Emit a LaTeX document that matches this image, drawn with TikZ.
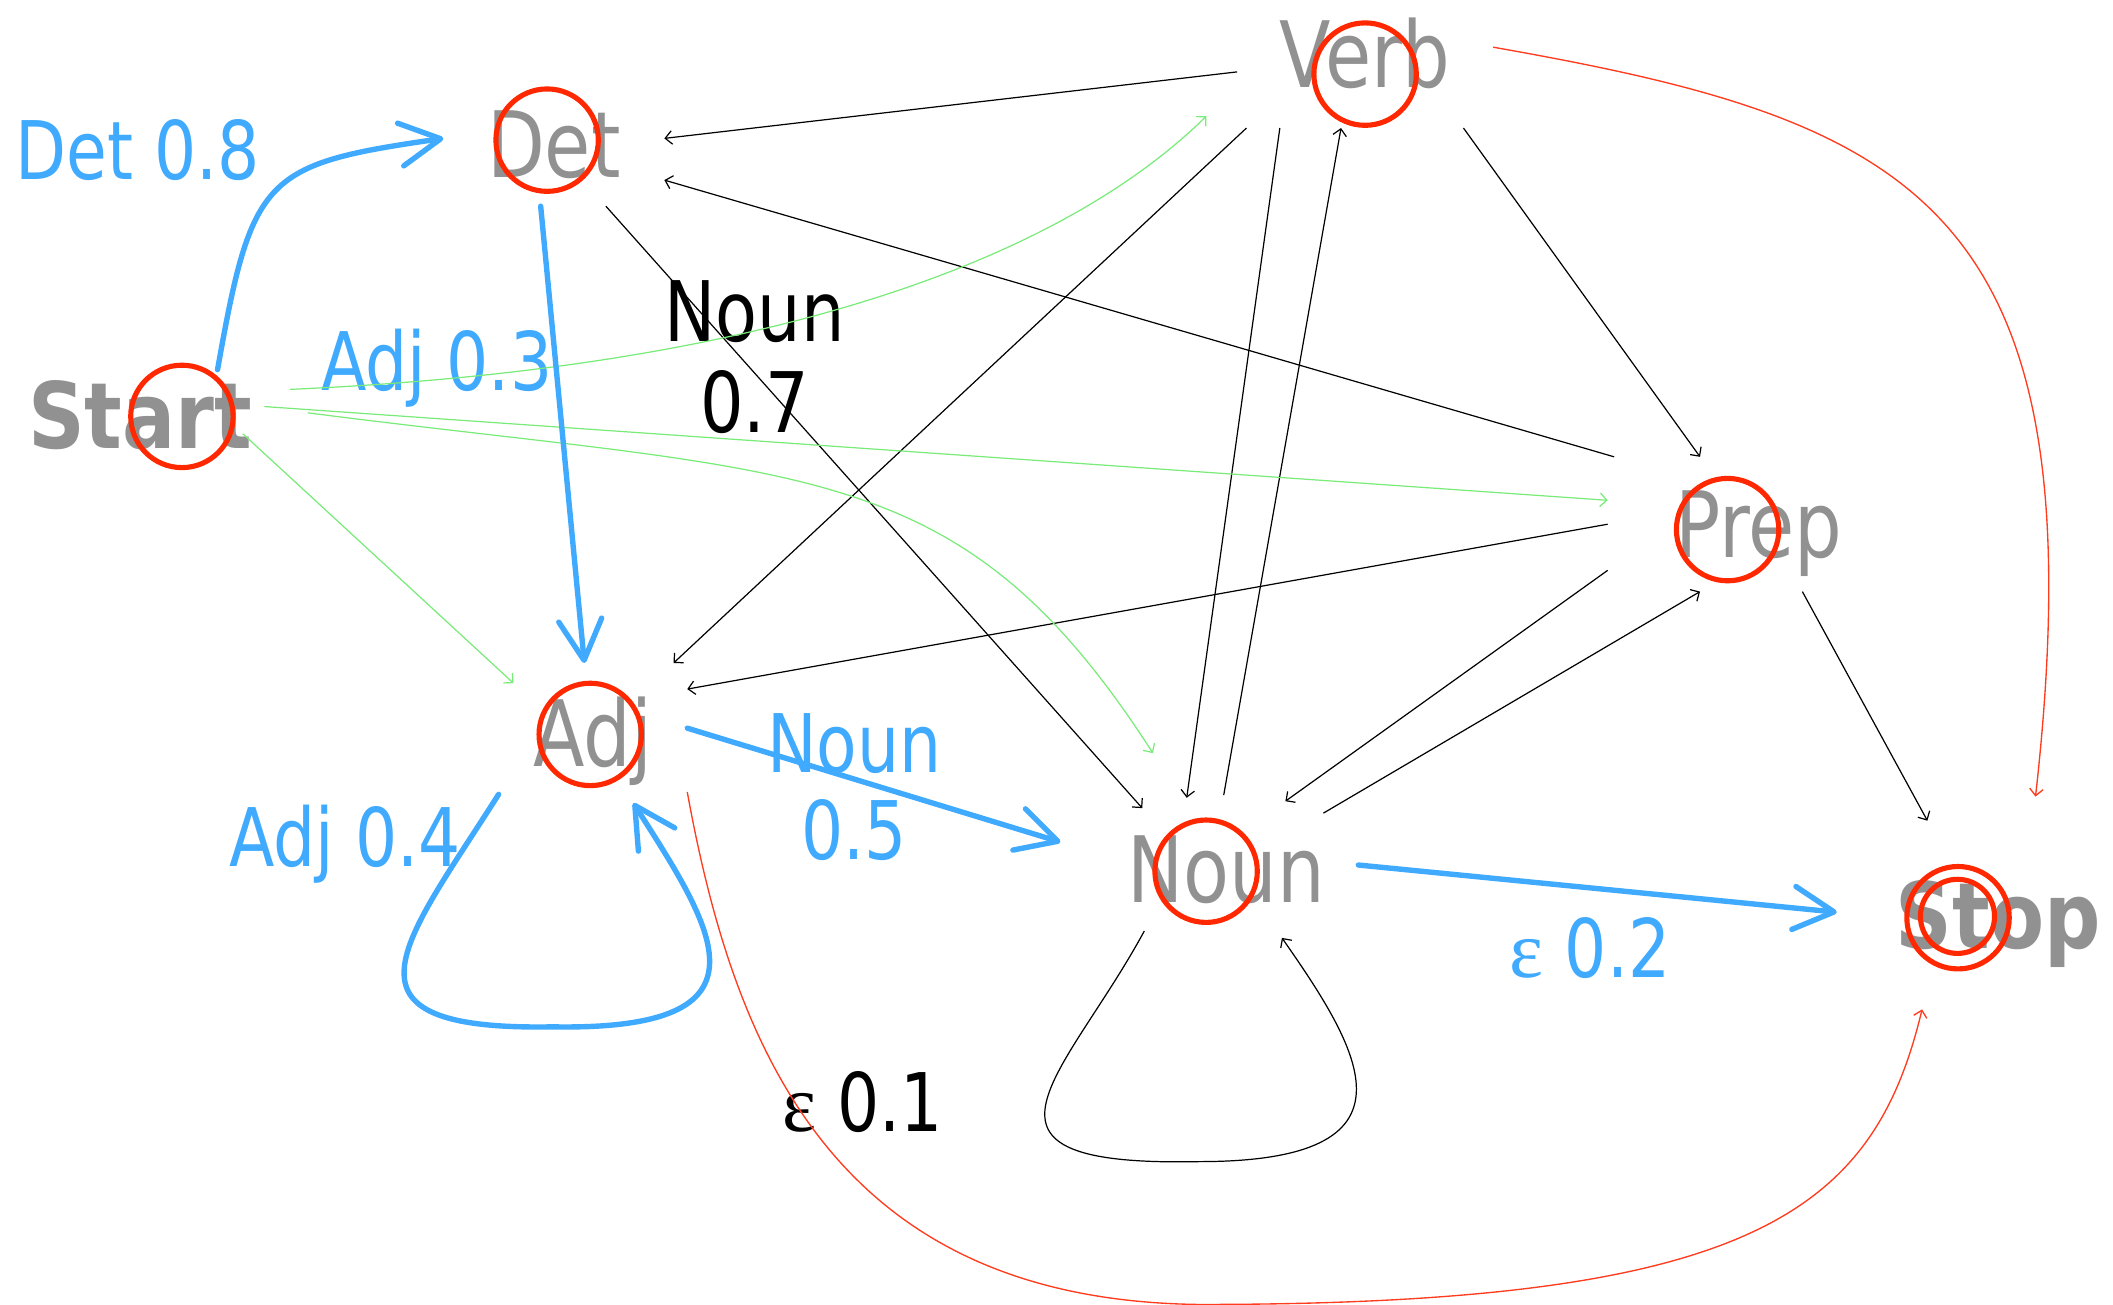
\documentclass[tikz,border=0pt]{standalone}
\usepackage{fontspec}
\usetikzlibrary{arrows.meta,shapes.geometric}
\newfontfamily\lbl{DejaVu Sans}[FakeStretch=0.82]
\newfontfamily\lblb{DejaVu Sans}[FakeStretch=0.86]
\newfontfamily\epsf{Liberation Serif}
\definecolor{tblue}{RGB}{64,170,255}
\definecolor{tgray}{RGB}{145,145,145}
\definecolor{tcirc}{RGB}{255,40,0}
\definecolor{tred}{RGB}{255,60,30}
\definecolor{tgreen}{RGB}{120,235,120}
\tikzset{
  st/.style={text=tgray, inner sep=0pt, outer sep=0pt, text height=25pt, text depth=0pt,
    font={\lbl\fontsize{34}{40}\selectfont}},
  stb/.style={st, font={\lblb\bfseries\fontsize{34}{40}\selectfont}},
  lab/.style={text=tblue, inner sep=0pt, font={\lbl\fontsize{30}{33}\selectfont}},
  blk/.style={text=black, inner sep=0pt, font={\lbl\fontsize{30}{33}\selectfont}},
  ring/.style={circle, draw=tcirc, line width=1.9pt, minimum size=38pt, inner sep=0pt},
  bl/.style={draw=tblue, line width=2pt, line cap=round,
    -{Straight Barb[length=15pt,width=16pt,round]}},
  bk/.style={draw=black, line width=0.45pt, -{Straight Barb[length=2.5pt,width=5pt]}},
  gr/.style={draw=tgreen, line width=0.45pt, -{Straight Barb[length=2.5pt,width=5pt]}},
  rd/.style={draw=tred, line width=0.5pt, -{Straight Barb[length=2.5pt,width=5pt]}}
}
\begin{document}
\begin{tikzpicture}[x=0.5pt,y=-0.5pt]
\useasboundingbox (0,0) rectangle (1568,968);
% edge labels
\node[lab, anchor=base] (ldet) at (102,133) {Det 0.8};
\node[lab, anchor=base] (ladj) at (324,290) {Adj 0.3};
\node[lab, anchor=base] (ladjl) at (256,643) {Adj 0.4};
\node[lab, align=center, font={\lbl\fontsize{30}{32.5}\selectfont}] (lnoun) at (634,584) {Noun\\0.5};
\node[lab, anchor=base] (leps) at (1180,725) {{\epsf ε} 0.2};
\node[blk, align=center, font={\lbl\fontsize{31}{33.5}\selectfont}] (lnoun7) at (560,265) {Noun\\0.7};
\node[blk, anchor=base] (leps1) at (640,840) {{\epsf ε} 0.1};
% states
\node[stb, ellipse, minimum width=115pt, minimum height=38pt] (start) at (104,307.5) {Start};
\node[st, rectangle, minimum width=82pt, minimum height=46pt] (det) at (411,107) {Det};
\node[st, rectangle, minimum width=95pt, minimum height=55pt] (verb) at (1013,40) {Verb};
\node[st, rectangle, minimum width=112pt, minimum height=50pt] (prep) at (1305,389) {Prep};
\node[st, rectangle, minimum width=70pt, minimum height=52pt] (adj) at (440,544) {Adj};
\node[st, ellipse, minimum width=110pt, minimum height=55pt] (noun) at (910,645) {Noun};
\node[stb, rectangle, minimum width=120pt, minimum height=70pt] (stop) at (1483,679) {Stop};
\coordinate (adjloop) at (410,762);
\coordinate (nounloop) at (890,862);
\coordinate (redlow) at (890,968);
% black edges
\draw[bk] (verb.188) -- (det.3);
\draw[bk] (prep.155) -- (det.-18);
\draw[bk] (det.-50) -- (noun.144);
\draw[bk] (verb.212) -- (adj.41);
\draw[bk] (prep.180) -- (adj.25);
\draw[bk] (verb.221) -- (noun.119);
\draw[bk] (noun.92) -- (verb.252);
\draw[bk] (verb.-37) -- (prep.131);
\draw[bk] (prep.197) -- (noun.49);
\draw[bk] (noun.30) -- (prep.229);
\draw[bk] (prep.-57) -- (stop.127);
\draw[bk] (noun.217) .. controls (790,800) and (700,866) .. (nounloop) .. controls (1060,862) and (1010,780) .. (noun.-51);
% green edges
\draw[gr, shorten <=4pt, shorten >=16pt] (start.10) .. controls (600,272) and (800,180) .. (verb.194);
\draw[gr, shorten <=-12.4pt] (start.2) -- (prep.171);
\draw[gr, shorten <=3.5pt, shorten >=20pt] (start.1) .. controls (600,354) and (712,336) .. (noun.122);
\draw[gr, shorten <=-8pt, shorten >=-7.5pt] (start.-16) -- (adj.146);
% red edges
\draw[rd, shorten >=9pt] (verb.3) .. controls (1420,90) and (1560,150) .. (stop.70);
\draw[rd] (adj.-32) .. controls (545,780) and (620,965) .. (redlow) .. controls (1300,968) and (1390,900) .. (stop.231);
% blue edges
\draw[bl] (start.30) .. controls (187,130) and (195.6,121.9) .. (det.177);
\draw[bl] (det.-102) -- (adj.97);
\draw[bl] (adj.213) .. controls (300,700) and (240,765) .. (adjloop) .. controls (580,765) and (530,690) .. (adj.-60);
\draw[bl, shorten >=9pt] (adj.3) -- (noun.172);
\draw[bl, shorten <=-6pt] (noun.1) -- (stop.179);
% red circles
\node[ring] (cstart) at (135,309) {};
\node[ring] (cdet) at (406,104) {};
\node[ring] (cverb) at (1013,55) {};
\node[ring] (cprep) at (1282,393) {};
\node[ring] (cadj) at (438,545) {};
\node[ring] (cnoun) at (895,646.5) {};
\node[ring] (cstop) at (1453,681) {};
\node[ring, minimum size=27.5pt] (cstopin) at (1452.6,680) {};
\end{tikzpicture}
\end{document}
